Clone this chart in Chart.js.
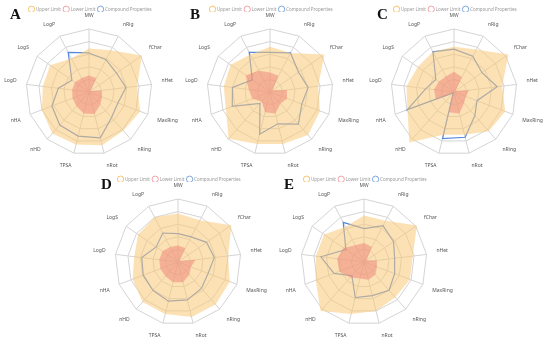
<!DOCTYPE html>
<html>
<head>
<meta charset="utf-8">
<script src="https://cdn.jsdelivr.net/npm/chart.js@4.4.0/dist/chart.umd.min.js"></script>
<style>
  body { margin: 0; background: #fff; }
  #wrap { position: relative; width: 550px; height: 341px; overflow: hidden; }
  .panel { position: absolute; }
  .tag { position: absolute; font-family: "Liberation Serif", serif; font-weight: bold; font-size: 15px; color: #111; }
</style>
</head>
<body>
<div id="wrap">
  <div class="panel" style="left:0px;top:0px"><canvas id="chartA" width="183" height="170"></canvas></div>
  <div class="panel" style="left:181px;top:0px"><canvas id="chartB" width="183" height="170"></canvas></div>
  <div class="panel" style="left:365px;top:0px"><canvas id="chartC" width="183" height="170"></canvas></div>
  <div class="panel" style="left:89px;top:170px"><canvas id="chartD" width="183" height="171"></canvas></div>
  <div class="panel" style="left:275px;top:170px"><canvas id="chartE" width="183" height="171"></canvas></div>
  <div class="tag" style="left:10px;top:6px">A</div>
  <div class="tag" style="left:190px;top:6px">B</div>
  <div class="tag" style="left:377px;top:6px">C</div>
  <div class="tag" style="left:101px;top:176px">D</div>
  <div class="tag" style="left:284px;top:176px">E</div>
</div>
<script>
const labels = ['MW', 'nRig', 'fChar', 'nHet', 'MaxRing', 'nRing', 'nRot', 'TPSA', 'nHD', 'nHA', 'LogD', 'LogS', 'LogP'];

const upperA = [0.69, 0.75, 1.02, 0.77, 0.87, 0.82, 0.87, 0.86, 0.88, 0.8, 0.74, 0.75, 0.6];
const lowerA = [0.26, 0.25, 0.03, 0.2, 0.22, 0.27, 0.36, 0.35, 0.3, 0.28, 0.27, 0.27, 0.25];
const compA = [0.62, 0.58, 0.53, 0.59, 0.49, 0.54, 0.75, 0.72, 0.7, 0.63, 0.49, 0.33, 0.71];

const upperB = [0.72, 0.7, 1.05, 0.77, 0.85, 0.91, 0.85, 0.85, 0.99, 0.75, 0.74, 0.76, 0.67];
const lowerB = [0.31, 0.29, 0.05, 0.27, 0.29, 0.25, 0.35, 0.33, 0.2, 0.3, 0.34, 0.47, 0.38];
const compB = [0.63, 0.7, 0.55, 0.61, 0.54, 0.68, 0.52, 0.69, 0.24, 0.64, 0.6, 0.34, 0.71];

const upperC = [0.72, 0.76, 1.05, 0.77, 0.87, 0.83, 0.7, 0.7, 1.07, 0.79, 0.76, 0.7, 0.72];
const lowerC = [0.32, 0.27, 0.03, 0.24, 0.2, 0.24, 0.35, 0.33, 0.02, 0.31, 0.32, 0.29, 0.28];
const compC = [0.68, 0.64, 0.54, 0.69, 0.39, 0.5, 0.74, 0.76, 0.02, 0.79, 0.45, 0.35, 0.72];

const upperD = [0.77, 0.75, 1.03, 0.8, 0.88, 0.9, 0.9, 0.85, 0.85, 0.77, 0.7, 0.77, 0.8];
const lowerD = [0.26, 0.25, 0.03, 0.28, 0.22, 0.27, 0.33, 0.33, 0.3, 0.3, 0.3, 0.3, 0.27];
const compD = [0.45, 0.45, 0.55, 0.58, 0.51, 0.56, 0.62, 0.64, 0.6, 0.59, 0.58, 0.42, 0.52];

const upperE = [0.74, 0.74, 1.02, 0.78, 0.78, 0.75, 0.8, 0.85, 1.04, 0.82, 0.77, 0.77, 0.63];
const lowerE = [0.3, 0.27, 0.05, 0.2, 0.22, 0.27, 0.29, 0.27, 0.33, 0.42, 0.43, 0.39, 0.3];
const compE = [0.53, 0.65, 0.57, 0.49, 0.52, 0.6, 0.55, 0.58, 0.29, 0.51, 0.69, 0.35, 0.71];

const seriesNames = ['Upper Limit', 'Lower Limit', 'Compound Properties'];
const legendColors = ['#f5c46a', '#f2a0a8', '#7ea6dc'];

function drawRadar(id, upper, lower, comp) {
  const ctx = document.getElementById(id).getContext('2d');
  new Chart(ctx, {
    type: 'radar',
    data: {
      labels: labels,
      datasets: [
        {
          label: seriesNames[0],
          data: upper,
          backgroundColor: 'rgba(250, 200, 120, 0.55)',
          borderColor: 'rgba(250, 200, 120, 0)',
          borderWidth: 0,
          fill: true,
          order: 1
        },
        {
          label: seriesNames[1],
          data: lower,
          backgroundColor: 'rgba(240, 130, 120, 0.5)',
          borderColor: 'rgba(240, 130, 120, 0)',
          borderWidth: 0,
          fill: true,
          order: 0
        },
        {
          label: seriesNames[2],
          data: comp,
          backgroundColor: 'rgba(0,0,0,0)',
          borderColor: 'rgba(85, 135, 215, 1)',
          borderWidth: 1.2,
          fill: false,
          order: 2
        }
      ]
    },
    options: {
      responsive: false,
      animation: false,
      elements: { point: { radius: 0, hoverRadius: 0 }, line: { tension: 0 } },
      layout: { padding: { top: 4, bottom: -22, left: -22, right: -20 } },
      plugins: {
        tooltip: { enabled: false },
        legend: {
          position: 'top',
          maxHeight: 8,
          labels: {
            usePointStyle: true,
            pointStyle: 'circle',
            boxWidth: 5,
            boxHeight: 5,
            padding: 3,
            color: '#999',
            font: { size: 4.5, family: 'Noto Sans' },
            generateLabels: (chart) => seriesNames.map((name, i) => ({
              text: name,
              fillStyle: '#fff',
              strokeStyle: legendColors[i],
              fontColor: '#999',
              lineWidth: 1,
              pointStyle: 'circle',
              datasetIndex: i,
              hidden: false
            }))
          }
        }
      },
      scales: {
        r: {
          min: 0,
          max: 1,
          ticks: { display: false, stepSize: 0.2 },
          grid: { color: '#d4d4d4', lineWidth: 1 },
          angleLines: { color: '#d4d4d4', lineWidth: 1 },
          pointLabels: { color: '#555', font: { size: 5, family: 'Noto Sans' }, padding: 10 }
        }
      }
    }
  });
}

drawRadar('chartA', upperA, lowerA, compA);
drawRadar('chartB', upperB, lowerB, compB);
drawRadar('chartC', upperC, lowerC, compC);
drawRadar('chartD', upperD, lowerD, compD);
drawRadar('chartE', upperE, lowerE, compE);
</script>
</body>
</html>
